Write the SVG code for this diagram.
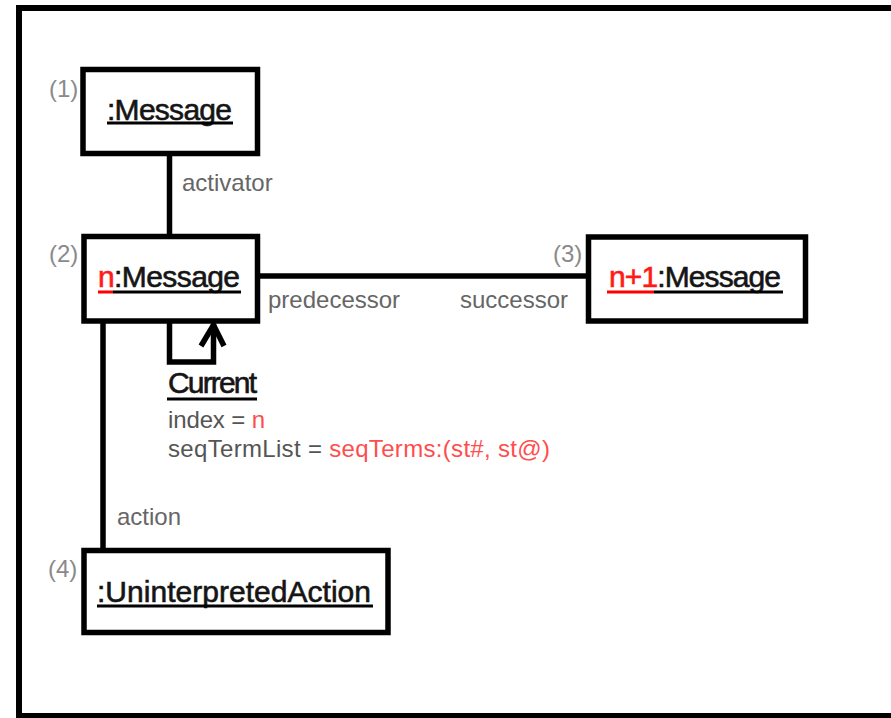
<svg xmlns="http://www.w3.org/2000/svg" width="891" height="718" viewBox="0 0 891 718">
  <style>
    .box { fill: #fff; stroke: #000; stroke-width: 5.5; }
    .edge { fill: none; stroke: #000; stroke-width: 5.5; }
    .title { font-family: "Liberation Sans", Arial, sans-serif; font-size: 30px; fill: #151515; stroke: #151515; stroke-width: 0.6px; }
    .num { font-family: "Liberation Sans", Arial, sans-serif; font-size: 24px; fill: #8a8a8a; }
    .role { font-family: "Liberation Sans", Arial, sans-serif; font-size: 24px; fill: #666; }
    .attr { font-family: "Liberation Sans", Arial, sans-serif; font-size: 24px; fill: #555; }
    .red { fill: #ff1a1a; stroke: #ff1a1a; }
    .lred { fill: #ff4d4d; }
    .ul { stroke: #000; stroke-width: 3; }
    .ulr { stroke: #ff0000; stroke-width: 3; }
  </style>

  <!-- outer frame -->
  <rect x="19" y="8" width="900" height="708" fill="#fff" stroke="#000" stroke-width="6"/>

  <!-- links between the objects -->
  <g id="connectors">
    <line class="edge" x1="169.5" y1="153" x2="169.5" y2="237"/>
    <line class="edge" x1="254" y1="276" x2="589" y2="276"/>
    <line class="edge" x1="103" y1="320" x2="103" y2="551"/>
    <!-- self link on n:Message -->
    <polyline class="edge" points="169.5,320 169.5,362 213.5,362 213.5,324"/>
    <polyline class="edge" points="201,346 213.5,325 224,346"/>
    <text class="role" x="182" y="191">activator</text>
    <text class="role" x="268" y="308">predecessor</text>
    <text class="role" x="460" y="308">successor</text>
    <text class="role" x="117" y="525">action</text>
  </g>

  <g id="msg1">
    <rect class="box" x="83" y="69.5" width="174.5" height="84"/>
    <text class="num" x="49" y="97">(1)</text>
    <text class="title" x="107" y="120" textLength="125">:Message</text>
    <line class="ul" x1="107" y1="123" x2="233" y2="123"/>
  </g>

  <g id="msg2">
    <rect class="box" x="84" y="236.5" width="173.5" height="84.5"/>
    <text class="num" x="49" y="262">(2)</text>
    <text class="title" x="98" y="287" textLength="142"><tspan class="red">n</tspan>:Message</text>
    <line class="ulr" x1="98" y1="292" x2="113" y2="292"/>
    <line class="ul" x1="113" y1="292" x2="241" y2="292"/>
  </g>

  <g id="msg3">
    <rect class="box" x="588.5" y="237" width="217" height="84"/>
    <text class="num" x="553" y="262">(3)</text>
    <text class="title" x="609" y="287" textLength="172"><tspan class="red">n+1</tspan>:Message</text>
    <line class="ulr" x1="607" y1="292" x2="654" y2="292"/>
    <line class="ul" x1="654" y1="292" x2="783" y2="292"/>
  </g>

  <g id="action4">
    <rect class="box" x="84" y="550.5" width="304" height="82"/>
    <text class="num" x="48" y="577">(4)</text>
    <text class="title" x="97" y="602" textLength="274">:UninterpretedAction</text>
    <line class="ul" x1="97" y1="606" x2="373" y2="606"/>
  </g>

  <g id="current">
    <text class="title" x="168" y="393" font-size="26" textLength="89">Current</text>
    <line class="ul" x1="167" y1="399" x2="257" y2="399"/>
    <text class="attr" x="168" y="428" textLength="97">index = <tspan class="lred">n</tspan></text>
    <text class="attr" x="168" y="457" textLength="382">seqTermList = <tspan class="lred">seqTerms:(st#, st@)</tspan></text>
  </g>
</svg>
